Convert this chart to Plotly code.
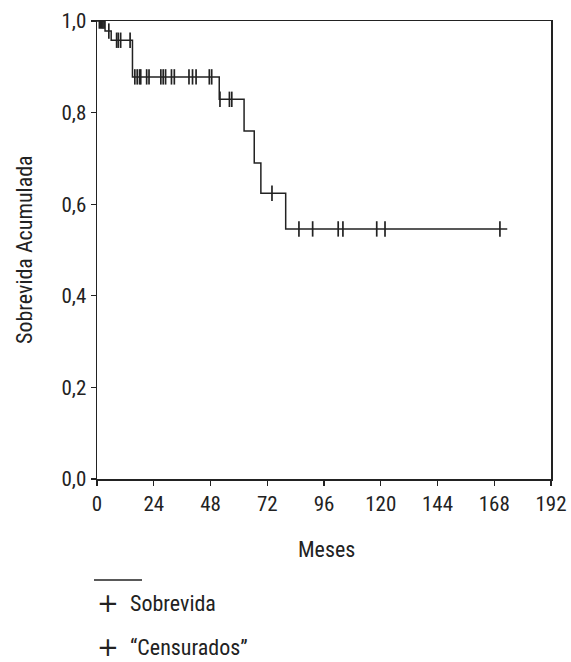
import plotly.graph_objects as go

# Kaplan-Meier step curve (months, cumulative survival)
step_times = [0, 3.4, 6.0, 15.0, 51.7, 62.2, 66.5, 69.3, 79.8, 173.5]
step_surv = [1.0, 0.978, 0.958, 0.878, 0.829, 0.76, 0.69, 0.624, 0.546, 0.546]

# censored observations
cens_times = [1.0, 1.5, 2.0, 2.5, 3.0, 5.0, 8.3, 9.0, 10.0, 14.0,
              16.0, 17.0, 18.0, 18.5, 21.0, 22.0, 27.0, 28.0, 29.0, 31.5,
              32.7, 38.9, 40.4, 41.9, 47.5, 48.5, 52.0, 56.0, 57.0, 74.0,
              85.4, 91.2, 102.0, 104.0, 118.3, 121.8, 170.4]
cens_surv = [1.0, 1.0, 1.0, 1.0, 1.0, 0.978, 0.958, 0.958, 0.958, 0.958,
             0.878, 0.878, 0.878, 0.878, 0.878, 0.878, 0.878, 0.878, 0.878, 0.878,
             0.878, 0.878, 0.878, 0.878, 0.878, 0.878, 0.829, 0.829, 0.829, 0.624,
             0.546, 0.546, 0.546, 0.546, 0.546, 0.546, 0.546]

x_ticks = [0, 24, 48, 72, 96, 120, 144, 168, 192]
y_ticks = [0.0, 0.2, 0.4, 0.6, 0.8, 1.0]
y_labels = ["0,0", "0,2", "0,4", "0,6", "0,8", "1,0"]

FONT = "Liberation Sans Narrow, Roboto Condensed, DejaVu Sans Condensed, Arial Narrow, sans-serif"
INK = "#222222"

fig = go.Figure()
fig.add_trace(go.Scatter(x=step_times, y=step_surv, mode="lines",
                         line=dict(shape="hv", color=INK, width=1.5),
                         showlegend=False, hoverinfo="skip"))
fig.add_trace(go.Scatter(x=cens_times, y=cens_surv, mode="markers",
                         marker=dict(symbol="line-ns-open", size=11, color=INK,
                                     line=dict(color=INK, width=1.7)),
                         showlegend=False, hoverinfo="skip"))

# body margin is removed below, so figure coordinates = screen coordinates
W, H = 571, 662
L, T = 97, 21
R = W - 551
B = H - 479
pw = W - L - R
ph = H - T - B

def px(sx):
    return (sx - L) / pw

def py(sy):
    return (H - B - sy) / ph

fig.update_layout(
    width=W, height=H,
    margin=dict(l=L, r=R, t=T, b=B, autoexpand=False),
    paper_bgcolor="white", plot_bgcolor="white",
    font=dict(family=FONT, size=21, color=INK),
    xaxis=dict(range=[0, 192], tickmode="array", tickvals=x_ticks,
               ticktext=[str(v) for v in x_ticks], automargin=False,
               showgrid=False, zeroline=False, showline=True, mirror=True,
               linecolor=INK, linewidth=1.5, ticks="outside", ticklen=5,
               tickcolor=INK, tickwidth=1.2, tickfont=dict(size=21)),
    yaxis=dict(range=[0, 1], tickmode="array", tickvals=y_ticks, ticktext=y_labels,
               automargin=False,
               showgrid=False, zeroline=False, showline=True, mirror=True,
               linecolor=INK, linewidth=1.5, ticks="outside", ticklen=5,
               tickcolor=INK, tickwidth=1.2, tickfont=dict(size=21)),
)

# axis titles
fig.add_annotation(text="Meses", xref="paper", yref="paper", x=px(326), y=py(549),
                   showarrow=False, font=dict(size=22), xanchor="center", yanchor="middle")
fig.add_annotation(text="Sobrevida Acumulada", xref="paper", yref="paper",
                   x=px(24), y=py(250), textangle=-90, showarrow=False,
                   font=dict(size=22), xanchor="center", yanchor="middle")

# custom legend
fig.add_shape(type="line", xref="paper", yref="paper",
              x0=px(94), x1=px(142), y0=py(580), y1=py(580),
              line=dict(color=INK, width=1.5))
for text, sy in [("Sobrevida", 603), ("\u201cCensurados\u201d", 647)]:
    fig.add_annotation(text="+", xref="paper", yref="paper",
                       x=px(108), y=py(sy), showarrow=False,
                       font=dict(size=26, family="DejaVu Sans"), xanchor="center", yanchor="middle")
    fig.add_annotation(text=text, xref="paper", yref="paper",
                       x=px(128), y=py(sy), showarrow=False,
                       font=dict(size=22), xanchor="left", yanchor="middle")

fig.write_html("out.html",
               config={"displayModeBar": False, "staticPlot": True},
               post_script="document.body.style.margin='0';document.body.style.overflow='hidden';")
